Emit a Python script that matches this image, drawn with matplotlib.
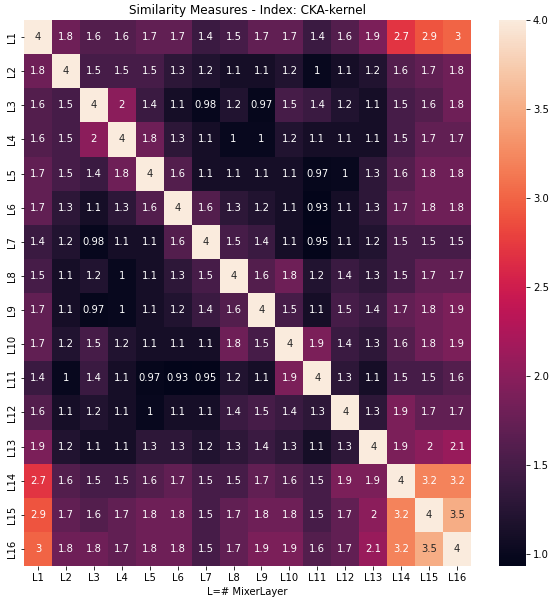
import numpy as np
import matplotlib
matplotlib.use("Agg")
import matplotlib.pyplot as plt
import seaborn as sns

labels = ["L%d" % i for i in range(1, 17)]

# CKA-kernel similarity values, read row by row
cka = np.array([
    [4, 1.8, 1.6, 1.6, 1.7, 1.7, 1.4, 1.5, 1.7, 1.7, 1.4, 1.6, 1.9, 2.7, 2.9, 3],
    [1.8, 4, 1.5, 1.5, 1.5, 1.3, 1.2, 1.1, 1.1, 1.2, 1, 1.1, 1.2, 1.6, 1.7, 1.8],
    [1.6, 1.5, 4, 2, 1.4, 1.1, 0.98, 1.2, 0.97, 1.5, 1.4, 1.2, 1.1, 1.5, 1.6, 1.8],
    [1.6, 1.5, 2, 4, 1.8, 1.3, 1.1, 1, 1, 1.2, 1.1, 1.1, 1.1, 1.5, 1.7, 1.7],
    [1.7, 1.5, 1.4, 1.8, 4, 1.6, 1.1, 1.1, 1.1, 1.1, 0.97, 1, 1.3, 1.6, 1.8, 1.8],
    [1.7, 1.3, 1.1, 1.3, 1.6, 4, 1.6, 1.3, 1.2, 1.1, 0.93, 1.1, 1.3, 1.7, 1.8, 1.8],
    [1.4, 1.2, 0.98, 1.1, 1.1, 1.6, 4, 1.5, 1.4, 1.1, 0.95, 1.1, 1.2, 1.5, 1.5, 1.5],
    [1.5, 1.1, 1.2, 1, 1.1, 1.3, 1.5, 4, 1.6, 1.8, 1.2, 1.4, 1.3, 1.5, 1.7, 1.7],
    [1.7, 1.1, 0.97, 1, 1.1, 1.2, 1.4, 1.6, 4, 1.5, 1.1, 1.5, 1.4, 1.7, 1.8, 1.9],
    [1.7, 1.2, 1.5, 1.2, 1.1, 1.1, 1.1, 1.8, 1.5, 4, 1.9, 1.4, 1.3, 1.6, 1.8, 1.9],
    [1.4, 1, 1.4, 1.1, 0.97, 0.93, 0.95, 1.2, 1.1, 1.9, 4, 1.3, 1.1, 1.5, 1.5, 1.6],
    [1.6, 1.1, 1.2, 1.1, 1, 1.1, 1.1, 1.4, 1.5, 1.4, 1.3, 4, 1.3, 1.9, 1.7, 1.7],
    [1.9, 1.2, 1.1, 1.1, 1.3, 1.3, 1.2, 1.3, 1.4, 1.3, 1.1, 1.3, 4, 1.9, 2, 2.1],
    [2.7, 1.6, 1.5, 1.5, 1.6, 1.7, 1.5, 1.5, 1.7, 1.6, 1.5, 1.9, 1.9, 4, 3.2, 3.2],
    [2.9, 1.7, 1.6, 1.7, 1.8, 1.8, 1.5, 1.7, 1.8, 1.8, 1.5, 1.7, 2, 3.2, 4, 3.5],
    [3, 1.8, 1.8, 1.7, 1.8, 1.8, 1.5, 1.7, 1.9, 1.9, 1.6, 1.7, 2.1, 3.2, 3.5, 4],
])

fig = plt.figure(figsize=(555/72, 604/72), dpi=72)
ax = fig.add_axes([24/555, 1-566/604, 447/555, 546/604])
cax = fig.add_axes([499/555, 1-566/604, 27/555, 546/604])

sns.heatmap(cka, annot=True, xticklabels=labels, yticklabels=labels,
            ax=ax, cbar_ax=cax)
ax.set_title("Similarity Measures - Index: CKA-kernel")
ax.set_xlabel("L=# MixerLayer")

fig.savefig("out.png", dpi=72, facecolor="white")
